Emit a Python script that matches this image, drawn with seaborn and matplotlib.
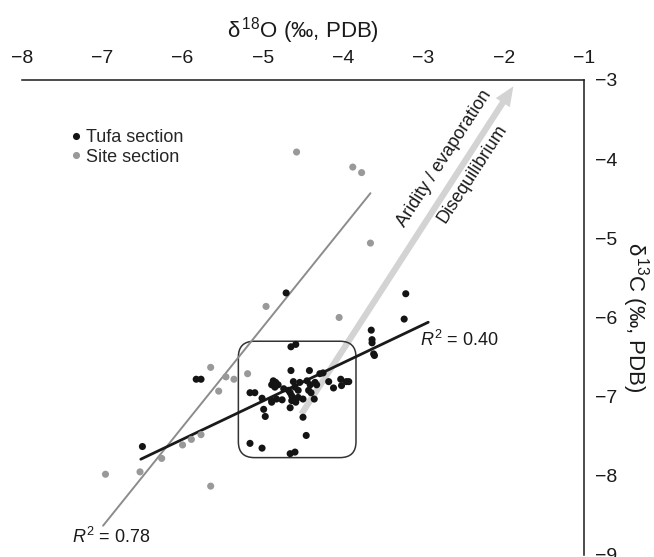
import matplotlib
matplotlib.use('Agg')
import pandas as pd
from matplotlib import pyplot as plt
from matplotlib.patches import FancyBboxPatch
import seaborn as sns

# delta18O / delta13C values (per mil, PDB)
tufa_o = [-6.50, -5.83, -5.77, -4.71, -3.22, -3.24, -3.65, -3.64, -3.64, -3.62,
          -3.61, -4.65, -4.59, -4.65, -4.42, -4.29, -4.25, -4.18, -4.03, -3.96,
          -3.93, -4.12, -4.02, -4.87, -4.84, -4.89, -4.81, -4.85, -4.62, -4.54,
          -4.45, -4.41, -4.35, -4.33, -4.74, -4.68, -4.60, -4.56, -4.43, -4.40,
          -5.16, -5.10, -5.01, -4.89, -4.83, -4.76, -4.89, -4.64, -4.60, -4.56,
          -4.50, -4.64, -4.59, -4.66, -4.36, -4.66, -4.99, -4.97, -4.50, -4.46,
          -5.16, -5.01, -4.66, -4.60]
tufa_c = [-7.63, -6.78, -6.78, -5.69, -5.70, -6.02, -6.16, -6.28, -6.32, -6.46,
          -6.48, -6.37, -6.34, -6.67, -6.67, -6.71, -6.70, -6.81, -6.78, -6.81,
          -6.81, -6.89, -6.86, -6.80, -6.82, -6.85, -6.85, -6.88, -6.81, -6.82,
          -6.80, -6.85, -6.82, -6.85, -6.90, -6.92, -6.88, -6.92, -6.92, -6.95,
          -6.95, -6.95, -7.02, -7.05, -7.03, -7.04, -7.07, -6.99, -7.03, -7.01,
          -7.03, -7.05, -7.07, -6.95, -7.03, -7.14, -7.16, -7.25, -7.26, -7.49,
          -7.59, -7.65, -7.72, -7.70]
site_o = [-4.58, -3.88, -3.77, -3.66, -4.96, -4.05, -5.65, -5.46, -5.36, -5.19,
          -5.55, -6.00, -5.89, -5.77, -6.26, -6.53, -6.96, -5.65]
site_c = [-3.91, -4.10, -4.17, -5.06, -5.86, -6.00, -6.63, -6.75, -6.78, -6.71,
          -6.93, -7.61, -7.54, -7.48, -7.78, -7.95, -7.98, -8.13]

# regression lines (end points)
tufa_fit_o = [-6.52, -2.94]
tufa_fit_c = [-7.79, -6.06]
site_fit_o = [-6.99, -3.66]
site_fit_c = [-8.63, -4.43]
tufa_r2 = 0.40
site_r2 = 0.78

# trend arrow and highlighted cluster
arrow_from = (-4.52, -7.22)
arrow_to = (-1.88, -3.08)
box_o = (-5.305, -3.84)
box_c = (-7.77, -6.30)

x_ticks = [-8, -7, -6, -5, -4, -3, -2, -1]
y_ticks = [-9, -8, -7, -6, -5, -4, -3]


def main():
    sns.set_theme(style='white')
    plt.rcParams['font.family'] = ['Liberation Sans', 'DejaVu Sans']
    plt.rcParams['mathtext.fontset'] = 'custom'
    plt.rcParams['mathtext.rm'] = 'Liberation Sans'
    plt.rcParams['mathtext.it'] = 'Liberation Sans:italic'
    plt.rcParams['axes.unicode_minus'] = True

    fig = plt.figure(figsize=(6.54, 5.57), dpi=100)
    ax = fig.add_axes([0.0336, 0.0036, 0.8594, 0.8528])

    df = pd.DataFrame({
        'o': tufa_o + site_o,
        'c': tufa_c + site_c,
        'section': ['Tufa section'] * len(tufa_o) + ['Site section'] * len(site_o),
    })

    # arrow underneath everything
    ax.annotate('', xy=arrow_to, xytext=arrow_from,
                arrowprops=dict(arrowstyle='simple,head_length=1.4,head_width=1.2,tail_width=0.45',
                                mutation_scale=10, color='#d3d3d3', lw=0,
                                shrinkA=0, shrinkB=0), zorder=1)
    ax.text(-2.74, -3.99, 'Aridity / evaporation', rotation=57, rotation_mode='anchor',
            ha='center', va='center', fontsize=13, color='#1a1a1a')
    ax.text(-2.39, -4.18, 'Disequilibrium', rotation=57, rotation_mode='anchor',
            ha='center', va='center', fontsize=13, color='#1a1a1a')

    box = FancyBboxPatch((box_o[0], box_c[0]), box_o[1] - box_o[0], box_c[1] - box_c[0],
                         boxstyle='round,pad=0,rounding_size=0.2', fill=False,
                         ec='#333333', lw=1.1, zorder=2)
    ax.add_patch(box)

    ax.plot(site_fit_o, site_fit_c, color='#8c8c8c', lw=1.4, zorder=3)
    ax.plot(tufa_fit_o, tufa_fit_c, color='#1a1a1a', lw=2.0, zorder=3)

    sns.scatterplot(data=df, x='o', y='c', hue='section',
                    palette={'Tufa section': '#141414', 'Site section': '#999999'},
                    s=26, linewidth=0, ax=ax, zorder=4)
    sns.move_legend(ax, 'upper left', bbox_to_anchor=(0.086, 0.897), frameon=False,
                    title=None, fontsize=13, handlelength=0.6, handletextpad=0.25,
                    labelspacing=0.15, borderpad=0, borderaxespad=0)

    ax.text(-3.04, -6.29, r'$R^{\mathrm{2}}$ = %.2f' % tufa_r2, ha='left', va='center',
            fontsize=13, color='#1a1a1a')
    ax.text(-7.38, -8.77, r'$R^{\mathrm{2}}$ = %.2f' % site_r2, ha='left', va='center',
            fontsize=13, color='#1a1a1a')

    ax.set_xlim(-8, -1)
    ax.set_ylim(-9, -3)
    ax.set_xticks(x_ticks)
    ax.set_yticks(y_ticks)
    ax.xaxis.tick_top()
    ax.xaxis.set_label_position('top')
    ax.yaxis.tick_right()
    ax.yaxis.set_label_position('right')
    sns.despine(ax=ax, top=False, right=False, left=True, bottom=True)
    for side in ['top', 'right']:
        ax.spines[side].set_color('#1a1a1a')
        ax.spines[side].set_linewidth(1.1)
    ax.tick_params(axis='both', direction='out', length=4, width=1.1, colors='#1a1a1a',
                   labelsize=14)
    ax.tick_params(axis='x', pad=5)
    ax.tick_params(axis='y', pad=4)
    ax.set_xlabel('δ$^{\\,18}$O (‰, PDB)', fontsize=16, color='#1a1a1a', labelpad=9)
    ax.set_ylabel('δ$^{\\,13}$C (‰, PDB)', fontsize=16, color='#1a1a1a', rotation=270,
                  va='bottom', labelpad=2)

    plt.savefig('out.png', dpi=100)


if __name__ == '__main__':
    main()
